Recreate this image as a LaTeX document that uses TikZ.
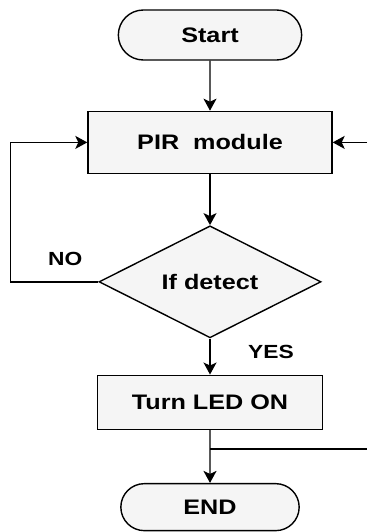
\documentclass[tikz,border=0pt]{standalone}
\usepackage{fontspec}
\newfontfamily\chartfont{Liberation Sans}[FakeStretch=1.2]
\usetikzlibrary{positioning, arrows.meta, shapes.geometric, shapes.misc}

\begin{document}
\begin{tikzpicture}[
    terminal/.style={draw, rounded rectangle, fill=gray!8, minimum width=190pt, minimum height=50pt, font=\chartfont\bfseries\fontsize{21pt}{25pt}\selectfont},
    process/.style={draw, fill=gray!8, minimum width=244pt, minimum height=62pt, font=\chartfont\bfseries\fontsize{21pt}{25pt}\selectfont},
    decision/.style={draw, diamond, fill=gray!8, inner sep=0pt, minimum width=222pt, minimum height=108pt, font=\chartfont\bfseries\fontsize{21pt}{25pt}\selectfont},
    arrow/.style={-{Stealth[length=12pt, width=13pt, inset=3pt]}},
    lbl/.style={font=\chartfont\bfseries\fontsize{19pt}{23pt}\selectfont},
    line width=1.4pt,
]
    \useasboundingbox (0,0) rectangle (367pt,-532pt);

    % Start
    \node[terminal] (start) at (210pt,-35pt) {Start};

    % Sensor read
    \node[process, below=50pt of start] (pir) {PIR\ \ module};
    \draw[arrow] (start) -- (pir);

    % Decision
    \node[decision, below=51pt of pir] (detect) {If detect};
    \draw[arrow] (pir) -- (detect);

    % NO branch back to the sensor
    \draw[arrow] (detect.west) -- ++(-88pt,0) |- (pir.west);
    \node[lbl] (no) at ([xshift=-33pt, yshift=23pt]detect.west) {NO};

    % YES branch
    \node[process, minimum width=225pt, minimum height=54pt, below=36pt of detect] (led) {Turn LED ON};
    \draw[arrow] (detect) -- (led);
    \node[lbl] (yes) at ([xshift=61pt, yshift=-13pt]detect.south) {YES};

    % End
    \node[terminal, minimum width=185pt, minimum height=47pt, below=53pt of led] (end) {END};
    \draw[arrow] (led) -- (end);

    % Loop lines at the right edge
    \coordinate (fbin) at (367pt,0 |- pir.east);
    \draw[arrow] (fbin) -- (pir.east);
    \coordinate[below=19pt of led.south] (split);
    \coordinate (fbout) at (split -| fbin);
    \draw (split) -- (fbout);

\end{tikzpicture}
\end{document}
